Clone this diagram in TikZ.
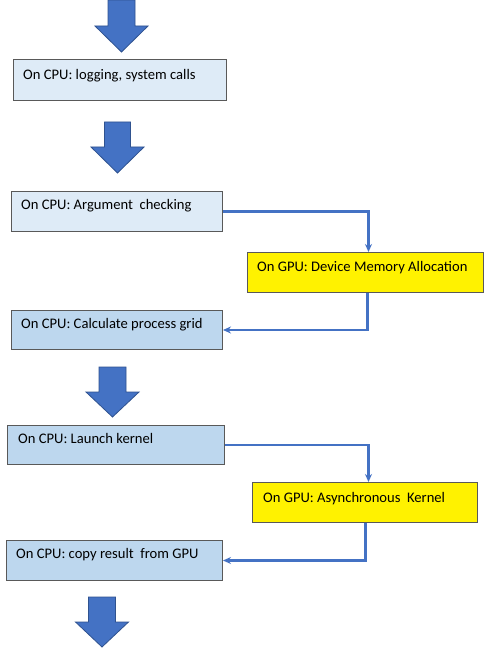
\documentclass[tikz,border=0pt]{standalone}
\usepackage{fontspec}
\setmainfont{Carlito}
\usetikzlibrary{arrows.meta}
\definecolor{lightbox}{HTML}{DEEBF7}
\definecolor{midbox}{HTML}{BDD7EE}
\definecolor{edgegray}{HTML}{595959}
\definecolor{linkblue}{HTML}{4472C4}
\definecolor{bigfill}{HTML}{4472C4}
\definecolor{bigedge}{HTML}{2F528F}
\newcommand\bigdownarrow[5]{% cx, top, base, tip, half-shaft
  \fill[bigfill,draw=bigedge,line width=0.8pt]
    (#1-#5,#2) -- (#1+#5,#2) -- (#1+#5,#3) -- (#1+26.5,#3) -- (#1,#4)
    -- (#1-26.5,#3) -- (#1-#5,#3) -- cycle;}
\begin{document}
\begin{tikzpicture}[x=1pt,y=-1pt,
  box/.style={draw=edgegray,line width=1pt,rectangle,anchor=north west,inner sep=0pt},
  cpulight/.style={box,fill=lightbox},
  cpumid/.style={box,fill=midbox},
  gpubox/.style={box,fill=yellow},
  txt/.style={anchor=base west,inner sep=0pt,font=\fontsize{14.6}{17}\selectfont},
  link/.style={draw=linkblue,line width=2.4pt,-{Stealth[length=8pt,width=7pt]}}]
\useasboundingbox (0,0) rectangle (487,652);
\fill[white] (0,0) rectangle (487,652);
% big arrows
\bigdownarrow{121.5}{0}{26}{52}{13.5}
\bigdownarrow{117.5}{122}{147}{173}{13}
\bigdownarrow{112.5}{367}{392}{417}{13.5}
\bigdownarrow{102}{597}{622}{647}{13.5}
% boxes
\node[cpulight,minimum width=213pt,minimum height=41pt] (b1) at (13,59) {};
\node[txt] (t1) at (23,80) {On CPU: logging, system calls};
\node[cpulight,minimum width=211pt,minimum height=40pt] (b2) at (11,191) {};
\node[txt] (t2) at (21,209) {On CPU: Argument\ \ checking};
\node[gpubox,minimum width=236pt,minimum height=40pt] (g1) at (247,252) {};
\node[txt] (t3) at (257,271) {On GPU: Device Memory Allocation};
\node[cpumid,minimum width=211pt,minimum height=39pt] (b3) at (11,310) {};
\node[txt] (t4) at (21,328) {On CPU: Calculate process grid};
\node[cpumid,minimum width=217pt,minimum height=39pt] (b4) at (7,425) {};
\node[txt] (t5) at (18,443) {On CPU: Launch kernel};
\node[gpubox,minimum width=225pt,minimum height=40pt] (g2) at (252,482) {};
\node[txt] (t6) at (263,502) {On GPU: Asynchronous\ \ Kernel};
\node[cpumid,minimum width=216pt,minimum height=40pt] (b5) at (6,540) {};
\node[txt] (t7) at (16,558) {On CPU: copy result\ \ from GPU};
% connectors
\draw[link] (b2.east) -| ([xshift=3pt]g1.north);
\draw[link] ([xshift=2pt]g1.south) |- (b3.east);
\draw[link] (b4.east) -| ([xshift=3.5pt]g2.north);
\draw[link] ([xshift=0.5pt]g2.south) |- (b5.east);
\end{tikzpicture}
\end{document}
